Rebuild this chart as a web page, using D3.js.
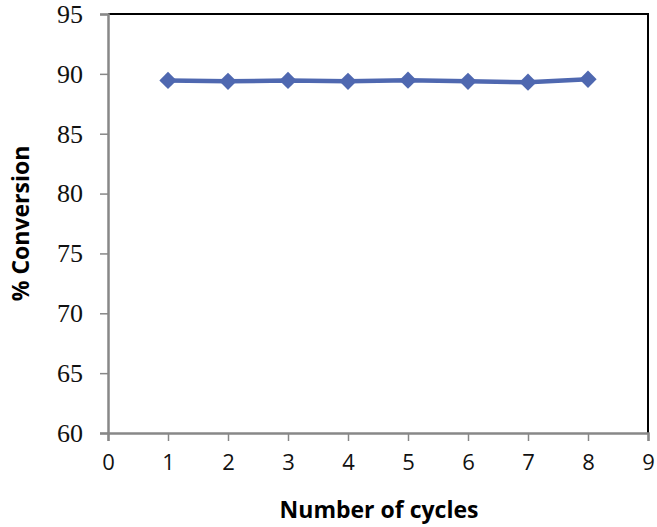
<!DOCTYPE html>
<html>
<head>
<meta charset="utf-8">
<script src="https://cdnjs.cloudflare.com/ajax/libs/d3/7.8.5/d3.min.js"></script>
<style>
  body { margin: 0; background: #fff; }
</style>
</head>
<body>
<script>
"use strict";

// cycles and measured conversion (%)
const cycles = [1, 2, 3, 4, 5, 6, 7, 8]
const conversion = [89.45, 89.38, 89.45, 89.38, 89.47, 89.38, 89.3, 89.55]
const xTicks = [0, 1, 2, 3, 4, 5, 6, 7, 8, 9]
const yTicks = [60, 65, 70, 75, 80, 85, 90, 95]

const measurements = {
    width: 657,
    height: 527,
    left: 108,
    right: 648,
    top: 14,
    bottom: 433
}

const svg = d3.select("body").append("svg")
    .attr("width", measurements.width)
    .attr("height", measurements.height)

const scaleX = d3.scaleLinear()
    .domain([0, 9])
    .range([measurements.left, measurements.right])

const scaleY = d3.scaleLinear()
    .domain([60, 95])
    .range([measurements.bottom, measurements.top])

// black frame on top and right
svg.append("path")
    .attr("d", `M${measurements.left},${measurements.top}H${measurements.right}V${measurements.bottom}`)
    .attr("fill", "none")
    .attr("stroke", "#000")
    .attr("stroke-width", 2)

// y axis
const yAxis = svg.append("g")
    .attr("transform", `translate(${measurements.left},0)`)
    .call(d3.axisLeft(scaleY).tickValues(yTicks).tickSize(8).tickPadding(17))
yAxis.select(".domain").attr("stroke", "#888").attr("stroke-width", 2.5)
yAxis.selectAll(".tick line").attr("stroke", "#888").attr("stroke-width", 1.5)
yAxis.selectAll("text")
    .attr("font-family", "Liberation Serif, Times New Roman, serif")
    .attr("font-size", 26)
    .attr("fill", "#111")

// x axis
const xAxis = svg.append("g")
    .attr("transform", `translate(0,${measurements.bottom})`)
    .call(d3.axisBottom(scaleX).tickValues(xTicks).tickSize(8).tickPadding(13))
xAxis.select(".domain").attr("stroke", "#888").attr("stroke-width", 2.5)
xAxis.selectAll(".tick line").attr("stroke", "#888").attr("stroke-width", 1.5)
xAxis.selectAll("text")
    .attr("font-family", "Open Sans, Liberation Sans, sans-serif")
    .attr("font-size", 22)
    .attr("fill", "#111")

// series line
const line = d3.line()
    .x((d, i) => scaleX(cycles[i]))
    .y(d => scaleY(d))

svg.append("path")
    .datum(conversion)
    .attr("d", line)
    .attr("fill", "none")
    .attr("stroke", "#4F68B0")
    .attr("stroke-width", 4.5)

// diamond markers
svg.selectAll(".marker")
    .data(conversion)
    .enter()
    .append("path")
        .attr("class", "marker")
        .attr("d", d3.symbol().type(d3.symbolDiamond2).size(190))
        .attr("transform", (d, i) => `translate(${scaleX(cycles[i])},${scaleY(d)})`)
        .attr("fill", "#4F68B0")

// axis titles
svg.append("text")
    .attr("x", 379)
    .attr("y", 518)
    .attr("text-anchor", "middle")
    .attr("font-family", "Open Sans, Liberation Sans, sans-serif")
    .attr("font-weight", "bold")
    .attr("font-size", 23)
    .text("Number of cycles")

svg.append("text")
    .attr("transform", `translate(29,${(measurements.top + measurements.bottom) / 2})rotate(-90)`)
    .attr("text-anchor", "middle")
    .attr("font-family", "Open Sans, Liberation Sans, sans-serif")
    .attr("font-weight", "bold")
    .attr("font-size", 23)
    .text("% Conversion")
</script>
</body>
</html>
